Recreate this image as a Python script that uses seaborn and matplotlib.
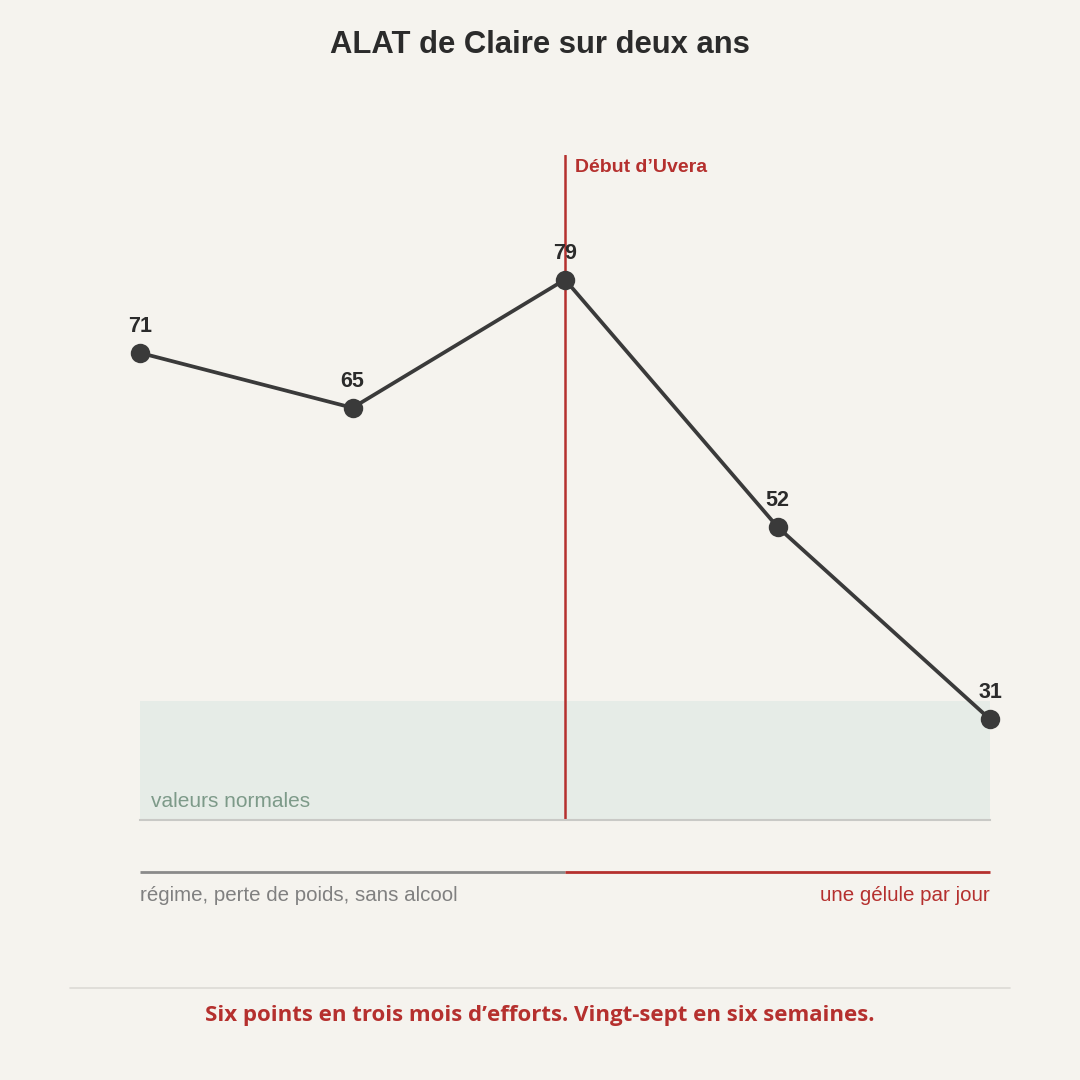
import matplotlib
matplotlib.use("Agg")
import matplotlib.pyplot as plt
import matplotlib.transforms as mtransforms
import seaborn as sns
import pandas as pd

# Data
mesures = [0, 1, 2, 3, 4]
alat = [71, 65, 79, 52, 31]
debut_uvera = 2
normale_bas, normale_haut = 20, 33

titre = "ALAT de Claire sur deux ans"
label_avant = "régime, perte de poids, sans alcool"
label_apres = "une gélule par jour"
conclusion = "Six points en trois mois d\u2019efforts. Vingt-sept en six semaines."

BG = "#f5f3ee"
INK = "#3a3a3a"
RED = "#b5302e"

sns.set_theme(style="white")
plt.rcParams["font.family"] = ["Liberation Sans", "DejaVu Sans"]

df = pd.DataFrame({"mesure": mesures, "alat": alat})

fig = plt.figure(figsize=(10.8, 10.8), dpi=100, facecolor=BG)
ax = fig.add_axes([140 / 1080, 1 - 820 / 1080, 850 / 1080, 665 / 1080])
ax.set_facecolor(BG)

# normal range band
ax.axhspan(normale_bas, normale_haut, color="#e6ece7", lw=0, zorder=0)
ax.text(0.05, normale_bas + 2, "valeurs normales", color="#7d9a89",
        fontsize=15, va="center", ha="left")

# treatment start
ax.axvline(debut_uvera, color=RED, lw=1.8, zorder=1)
ax.annotate("Début d\u2019Uvera", xy=(debut_uvera, 1), xycoords=("data", "axes fraction"),
            xytext=(7, -9), textcoords="offset points", color=RED,
            fontsize=14, fontweight="bold", ha="left", va="center")

sns.lineplot(data=df, x="mesure", y="alat", ax=ax, color=INK, lw=2.7,
             marker="o", markersize=14, markeredgewidth=0, zorder=3, clip_on=False)
for x, y in zip(mesures, alat):
    ax.annotate(str(y), xy=(x, y), xytext=(0, 19), textcoords="offset points",
                ha="center", va="center", fontsize=15.5, fontweight="bold", color="#2b2b2b")

ax.set_xlim(mesures[0], mesures[-1])
ax.set_ylim(20, 92.6)
ax.set_xticks([])
ax.set_yticks([])
ax.set_xlabel("")
ax.set_ylabel("")
for s in ["top", "left", "right"]:
    ax.spines[s].set_visible(False)
ax.spines["bottom"].set_color("#c9c9c6")
ax.spines["bottom"].set_linewidth(1.5)

# phase timeline
tr = mtransforms.blended_transform_factory(ax.transData, ax.transAxes)
ax.plot([mesures[0], debut_uvera], [-0.078, -0.078], color="#8a8a8a", lw=2,
        transform=tr, clip_on=False, solid_capstyle="butt")
ax.plot([debut_uvera, mesures[-1]], [-0.078, -0.078], color=RED, lw=2,
        transform=tr, clip_on=False, solid_capstyle="butt")
ax.text(mesures[0], -0.113, label_avant, transform=tr, color="#808080",
        fontsize=14.8, ha="left", va="center")
ax.text(mesures[-1], -0.113, label_apres, transform=tr, color=RED,
        fontsize=14.8, ha="right", va="center")

fig.text(0.5, 1 - 45 / 1080, titre, ha="center", va="center", fontsize=22.3,
         fontweight="bold", color="#2b2b2b")

fig.add_artist(plt.Line2D([70 / 1080, 1010 / 1080], [1 - 988 / 1080] * 2,
                          color="#dcdad5", lw=1.2))
fig.text(0.5, 1 - 1015 / 1080, conclusion, ha="center", va="center", fontsize=16,
         fontweight="bold", color=RED, family=["Open Sans", "DejaVu Sans"])

fig.savefig("out.png", dpi=100, facecolor=BG)
